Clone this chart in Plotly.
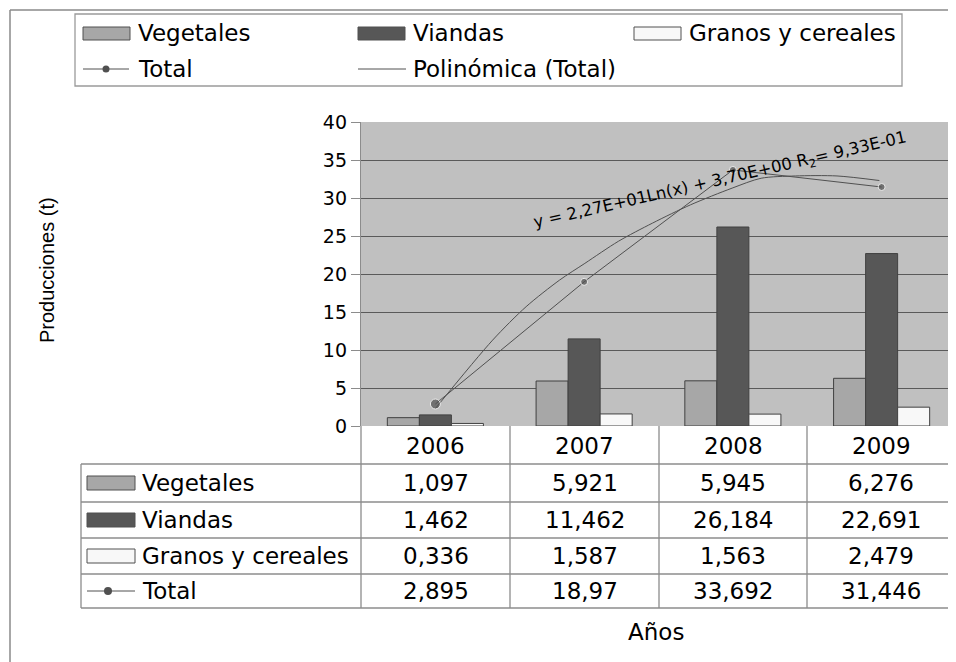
import plotly.graph_objects as go

W, H = 956, 662
OFF = 8  # page body margin in the browser

years = ["2006", "2007", "2008", "2009"]
series_names = ["Vegetales", "Viandas", "Granos y cereales"]
vegetales = [1.097, 5.921, 5.945, 6.276]
viandas = [1.462, 11.462, 26.184, 22.691]
granos = [0.336, 1.587, 1.563, 2.479]
total = [2.895, 18.97, 33.692, 31.446]
total_name = "Total"
trend_name = "Polinómica (Total)"

# trend curve (x = year index)
trend_x = [0, 0.385, 0.61, 0.835, 1.005, 1.23, 1.46, 1.715, 1.995, 2.19, 2.42, 2.70, 2.985]
trend_y = [2.3, 11.3, 15.7, 19.2, 21.4, 24.3, 26.7, 29.1, 31.3, 32.6, 32.9, 32.9, 32.3]
trend_label = "y = 2,27E+01Ln(x) + 3,70E+00 R<sub>2</sub>= 9,33E-01"

y_ticks = [0, 5, 10, 15, 20, 25, 30, 35, 40]

FONT = "DejaVu Sans, Liberation Sans, Arial, sans-serif"
FONT_NARROW = "Liberation Sans, Arial, sans-serif"
colors = ["#a7a7a7", "#575757", "#f8f8f8"]
DARK = "#505050"
LINE = "#8c8c8c"


def px(x):
    return (x - OFF) / W


def py(y):
    return 1 - (y - OFF) / H


shapes = []
annotations = []


def line(x0, y0, x1, y1, color=LINE, width=1.3):
    shapes.append(dict(type="line", xref="paper", yref="paper",
                       x0=px(x0), y0=py(y0), x1=px(x1), y1=py(y1),
                       line=dict(color=color, width=width)))


def rect(x0, y0, x1, y1, fill, color=DARK, width=1):
    shapes.append(dict(type="rect", xref="paper", yref="paper",
                       x0=px(x0), y0=py(y0), x1=px(x1), y1=py(y1),
                       fillcolor=fill, line=dict(color=color, width=width)))


def dot(x, y, r):
    shapes.append(dict(type="circle", xref="paper", yref="paper",
                       x0=px(x - r), y0=py(y - r), x1=px(x + r), y1=py(y + r),
                       fillcolor="#505050", line=dict(color="#505050", width=0)))


def text(x, y, s, size=23, xanchor="left", angle=0, family=FONT):
    annotations.append(dict(xref="paper", yref="paper", x=px(x), y=py(y),
                            text=s, showarrow=False, xanchor=xanchor, yanchor="middle",
                            textangle=angle, font=dict(family=family, size=size, color="black")))


xs = list(range(len(years)))

fig = go.Figure()
for name, vals, col in zip(series_names, [vegetales, viandas, granos], colors):
    fig.add_trace(go.Bar(x=xs, y=vals, name=name, marker_color=col,
                         marker_line=dict(color="#404040", width=1), showlegend=False))

fig.add_trace(go.Scatter(x=trend_x, y=trend_y, mode="lines",
                         line=dict(color="#505050", width=1, shape="spline", smoothing=0.8),
                         showlegend=False))
fig.add_trace(go.Scatter(x=xs, y=total, mode="lines+markers",
                         line=dict(color="#505050", width=1),
                         marker=dict(color="#505050", size=[10, 7, 7, 7]), showlegend=False))

# outer chart border
line(10, 10, 10, H + OFF, color="#8a8a8a", width=1.5)
line(10, 10, W + OFF, 10, color="#8a8a8a", width=1.5)

# legend box
shapes.append(dict(type="rect", xref="paper", yref="paper", x0=px(75), y0=py(14),
                   x1=px(902), y1=py(86), line=dict(color="#9a9a9a", width=1.3)))
leg_x = [83, 358, 634]
for lx, name, col in zip(leg_x, series_names, colors):
    rect(lx, 27, lx + 47, 40, col)
    text(lx + 53, 33, name)
line(83, 69, 129, 69, color="#505050", width=1)
dot(106, 69, 3.5)
text(136, 69, total_name)
line(358, 69, 406, 69, color="#505050", width=1)
text(411, 69, trend_name)

# data table
col_edges = [361, 510, 659, 807, 955]
row_edges = [464, 502, 538, 574, 608]
for x in col_edges:
    line(x, 426, x, 608)
line(81, 464, 81, 608)
for y in row_edges:
    line(81, y, W + OFF, y)
centers = [(a + b) / 2 for a, b in zip(col_edges[:-1], col_edges[1:])]
for cx, yr in zip(centers, years):
    text(cx, 446, yr, xanchor="center")

rows = [vegetales, viandas, granos, total]
labels = series_names + [total_name]
for i, (lab, vals) in enumerate(zip(labels, rows)):
    cy = (row_edges[i] + row_edges[i + 1]) / 2
    if i < 3:
        rect(87, cy - 7, 135, cy + 7, colors[i])
    else:
        line(87, cy, 135, cy, color="#505050", width=1)
        dot(108, cy, 4)
    text(140, cy, lab)
    for cx, v in zip(centers, vals):
        text(cx, cy, str(v).replace(".", ","), xanchor="center")

# titles and trend equation
text(47, 270, "Producciones (t)", size=20, xanchor="center", angle=-90, family=FONT_NARROW)
text(656, 632, "Años", xanchor="center")
text(720, 180, trend_label, size=16.5, xanchor="center", angle=-13)

fig.update_layout(
    width=W, height=H, autosize=False,
    margin=dict(l=0, r=0, t=0, b=0),
    paper_bgcolor="white",
    plot_bgcolor="#c0c0c0",
    barmode="group", bargap=0.354, bargroupgap=0,
    shapes=shapes, annotations=annotations,
    font=dict(family=FONT, size=23, color="black"),
)
fig.update_xaxes(domain=[px(361), px(956)], range=[-0.5, 3.5], showticklabels=False,
                 showgrid=False, zeroline=False, showline=False, ticks="")
fig.update_yaxes(domain=[py(426), py(122)], range=[0, 40], tickvals=y_ticks,
                 showgrid=True, gridcolor="#5a5a5a", gridwidth=1, zeroline=False,
                 showline=True, linecolor="#8c8c8c", linewidth=1.3,
                 ticks="outside", ticklen=9, tickcolor="#8c8c8c",
                 tickfont=dict(family=FONT, size=19), automargin=False)

fig.write_html("out.html")
